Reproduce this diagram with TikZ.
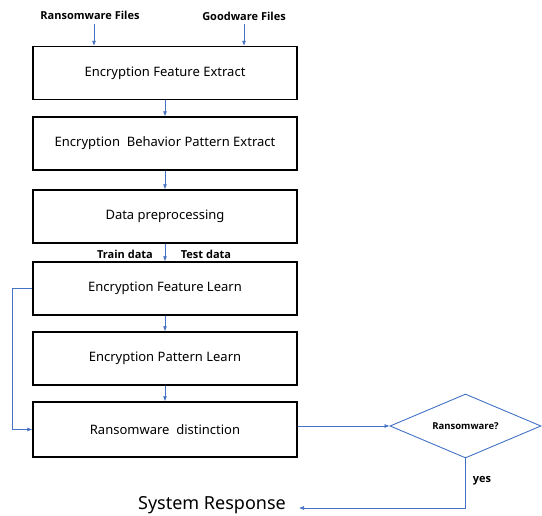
\documentclass[tikz,border=0pt]{standalone}
\usepackage{fontspec}
\setmainfont{Noto Sans}
\newfontfamily\boldlbl{Open Sans}
\usetikzlibrary{shapes.geometric,arrows.meta}
\definecolor{ablue}{HTML}{4472C4}
\begin{document}
\begin{tikzpicture}[x=1pt,y=-1pt,
  procbox/.style={draw=black,line width=1.4pt,minimum width=264pt,minimum height=53pt,inner sep=0pt,font=\fontsize{13}{15}\selectfont},
  conn/.style={draw=ablue,line width=0.7pt,-{Latex[length=5pt,width=4pt]}},
  lbl/.style={font=\boldlbl\bfseries\fontsize{11}{13}\selectfont,inner sep=0pt}]
\useasboundingbox (0,0) rectangle (542,516);
\node[lbl] (rf) at (90,15) {Ransomware Files};
\node[lbl] (gf) at (244,16) {Goodware Files};
\node[procbox] (b1) at (165,73) {\raisebox{-2pt}{Encryption Feature Extract}};
\node[procbox] (b2) at (165,143.5) {\raisebox{-2pt}{Encryption\ \ Behavior Pattern Extract}};
\node[procbox] (b3) at (165,216.5) {\raisebox{-1pt}{Data preprocessing}};
\node[procbox] (b4) at (165,288.5) {\raisebox{-2pt}{Encryption Feature Learn}};
\node[procbox] (b5) at (165,358.5) {\raisebox{-2pt}{Encryption Pattern Learn}};
\node[procbox,minimum height=55pt] (b6) at (165,429.5) {\raisebox{-2pt}{Ransomware\ \ distinction}};
\node[lbl] (tr) at (125,254) {Train data};
\node[lbl] (te) at (206,254) {Test data};
\node[diamond,draw=ablue,line width=0.9pt,minimum width=151pt,minimum height=64pt,inner sep=0pt,aspect=2.36,font=\boldlbl\bfseries\fontsize{9.5}{11}\selectfont] (d) at (465.5,426) {Ransomware?};
\node[lbl] (yes) at (482,481) {yes};
\node[font=\fontsize{18}{22}\selectfont,inner sep=0pt,anchor=east] (sr) at (286,505) {System Response};
\coordinate (rfa) at (94,24);
\coordinate (gfa) at (244,24);
\coordinate (sre) at (299,508);
\draw[conn] (rfa) -- (rfa |- b1.north);
\draw[conn] (gfa) -- (gfa |- b1.north);
\draw[conn] (b1) -- (b2);
\draw[conn] (b2) -- (b3);
\draw[conn] (b3) -- (b4);
\draw[conn] (b4) -- (b5);
\draw[conn] (b5) -- (b6);
\draw[conn] (b4.west) -- ++(-20,0) |- (b6.west);
\draw[conn] (b6.east |- d.west) -- (d.west);
\draw[conn] (d.south) |- (sre);
\end{tikzpicture}
\end{document}
